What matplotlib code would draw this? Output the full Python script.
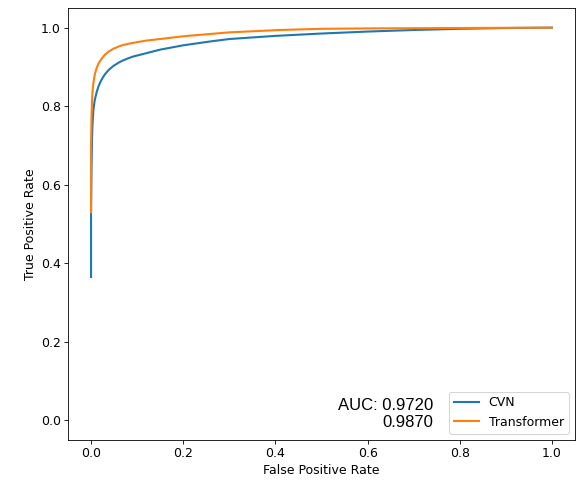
import matplotlib
matplotlib.use("Agg")
import matplotlib.pyplot as plt

# ROC curve points
fpr_cvn = [0, 0, 0.001, 0.002, 0.003, 0.005, 0.008, 0.012, 0.016, 0.02, 0.025, 0.03, 0.038,
           0.048, 0.06, 0.07, 0.09, 0.12, 0.15, 0.2, 0.26, 0.3, 0.4, 0.5, 0.6, 0.7, 0.8, 0.9, 1.0]
tpr_cvn = [0.365, 0.53, 0.64, 0.71, 0.75, 0.79, 0.815, 0.835, 0.85, 0.861, 0.872, 0.881, 0.892,
           0.902, 0.911, 0.917, 0.926, 0.935, 0.944, 0.955, 0.965, 0.971, 0.979, 0.985, 0.99,
           0.994, 0.997, 0.999, 1.0]

fpr_tr = [0, 0, 0.001, 0.002, 0.003, 0.005, 0.008, 0.012, 0.016, 0.02, 0.025, 0.03, 0.038,
          0.048, 0.06, 0.07, 0.09, 0.12, 0.15, 0.2, 0.26, 0.3, 0.41, 0.5, 0.6, 0.8, 1.0]
tpr_tr = [0.53, 0.7, 0.77, 0.81, 0.835, 0.858, 0.88, 0.897, 0.908, 0.916, 0.924, 0.931, 0.939,
          0.946, 0.952, 0.956, 0.961, 0.967, 0.971, 0.978, 0.984, 0.988, 0.994, 0.997, 0.998,
          0.999, 1.0]

labels = ["CVN", "Transformer"]
auc_vals = [0.9720, 0.9870]

plt.rcParams['font.size'] = 12

fig = plt.figure(figsize=(581 / 75, 481 / 75), dpi=75)
ax = fig.add_axes([68 / 581, 41 / 481, 507 / 581, 432 / 481])

ax.plot(fpr_cvn, tpr_cvn, color="#1f77b4", lw=2, label=labels[0])
ax.plot(fpr_tr, tpr_tr, color="#ff7f0e", lw=2, label=labels[1])

ax.set_xlim(-0.05, 1.05)
ax.set_ylim(-0.05, 1.05)
ax.set_xlabel("False Positive Rate")
ax.set_ylabel("True Positive Rate")
ax.legend(loc="lower right")

ax.text(0.72, 0.022, "AUC: %.4f\n%.4f" % (auc_vals[0], auc_vals[1]),
        transform=ax.transAxes, ha="right", va="bottom", multialignment="right",
        family="Liberation Sans", fontsize=16)

fig.savefig("out.png", dpi=75)
